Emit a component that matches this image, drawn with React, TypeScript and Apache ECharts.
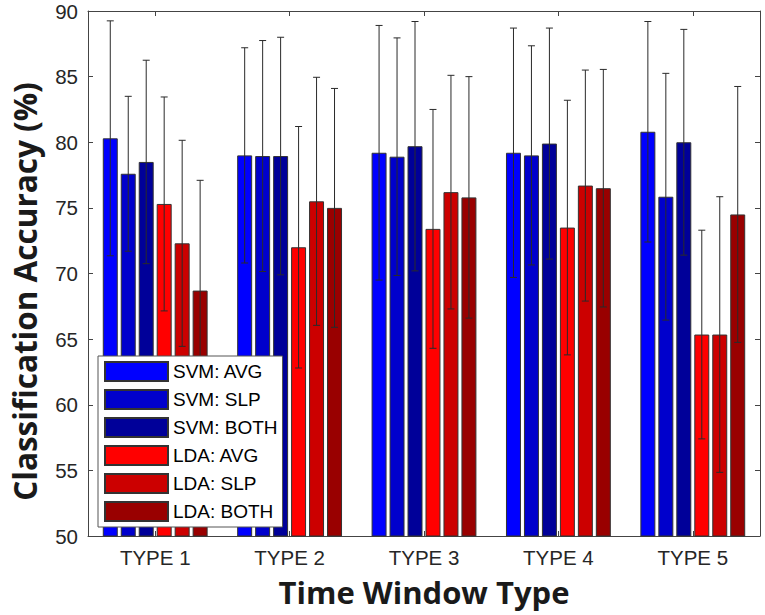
import React, { useEffect, useRef } from "react";
import * as echarts from "echarts";

const categories = ["TYPE 1", "TYPE 2", "TYPE 3", "TYPE 4", "TYPE 5"];
const seriesNames = ["SVM: AVG", "SVM: SLP", "SVM: BOTH", "LDA: AVG", "LDA: SLP", "LDA: BOTH"];
const seriesColors = ["#0000FF", "#0000CC", "#000099", "#FF0000", "#CC0000", "#990000"];

const svmAvg = [80.3, 79.0, 79.2, 79.2, 80.8];
const svmSlp = [77.6, 78.95, 78.9, 79.0, 75.85];
const svmBoth = [78.5, 78.95, 79.7, 79.9, 80.0];
const ldaAvg = [75.3, 72.0, 73.4, 73.5, 65.35];
const ldaSlp = [72.3, 75.5, 76.2, 76.7, 65.35];
const ldaBoth = [68.7, 75.0, 75.8, 76.5, 74.5];

const svmAvgSd = [8.95, 8.2, 9.7, 9.5, 8.4];
const svmSlpSd = [5.9, 8.8, 9.05, 8.35, 9.4];
const svmBothSd = [7.75, 9.05, 9.5, 8.8, 8.6];
const ldaAvgSd = [8.15, 9.2, 9.1, 9.7, 7.95];
const ldaSlpSd = [7.85, 9.45, 8.9, 8.8, 10.5];
const ldaBothSd = [8.4, 9.1, 9.2, 9.05, 9.75];

const yTicks = { min: 50, max: 90, interval: 5 };

const means = [svmAvg, svmSlp, svmBoth, ldaAvg, ldaSlp, ldaBoth];
const sds = [svmAvgSd, svmSlpSd, svmBothSd, ldaAvgSd, ldaSlpSd, ldaBothSd];

const BAR_CAT_GAP = 0.22;
const BAR_GAP = 0.2;
const AXIS_COLOR = "#444";
const TEXT_COLOR = "#262626";

export default function App() {
  const ref = useRef<HTMLDivElement>(null);

  useEffect(() => {
    if (!ref.current) return;
    const chart = echarts.init(ref.current, null, { renderer: "svg" });

    const n = seriesNames.length;
    const errData: number[][] = [];
    means.forEach((arr, s) => {
      arr.forEach((m, c) => {
        errData.push([c, m - sds[s][c], m + sds[s][c], s]);
      });
    });

    const barSeries = seriesNames.map((name, s) => ({
      type: "bar",
      name,
      data: means[s],
      xAxisIndex: 0,
      yAxisIndex: 0,
      barCategoryGap: BAR_CAT_GAP * 100 + "%",
      barGap: BAR_GAP * 100 + "%",
      itemStyle: { color: seriesColors[s], borderColor: "#333", borderWidth: 1 },
      z: 2,
    }));

    const errSeries = {
      type: "custom",
      name: "err",
      xAxisIndex: 0,
      yAxisIndex: 0,
      z: 3,
      encode: { x: 0, y: [1, 2] },
      data: errData,
      renderItem: (params: any, api: any) => {
        const cat = api.value(0);
        const low = api.value(1);
        const high = api.value(2);
        const s = api.value(3);
        const band = api.size([1, 0])[0];
        const area = band * (1 - BAR_CAT_GAP);
        const w = area / (n + (n - 1) * BAR_GAP);
        const top = api.coord([cat, high]);
        const bot = api.coord([cat, low]);
        const x = top[0] - area / 2 + s * w * (1 + BAR_GAP) + w / 2;
        const hw = 3.5;
        const style = { stroke: "#2a2a2a", lineWidth: 1 };
        return {
          type: "group",
          children: [
            { type: "line", shape: { x1: x, y1: top[1], x2: x, y2: bot[1] }, style },
            { type: "line", shape: { x1: x - hw, y1: top[1], x2: x + hw, y2: top[1] }, style },
            { type: "line", shape: { x1: x - hw, y1: bot[1], x2: x + hw, y2: bot[1] }, style },
          ],
        };
      },
    };

    chart.setOption({
      animation: false,
      backgroundColor: "#fff",
      grid: { left: 82, right: 5, top: 11, bottom: 79 },
      legend: {
        data: seriesNames,
        orient: "vertical",
        left: 98,
        top: 356,
        icon: "rect",
        itemWidth: 63,
        itemHeight: 19,
        itemGap: 7,
        padding: [5, 5, 5, 6],
        backgroundColor: "#fff",
        borderColor: "#555",
        borderWidth: 1,
        textStyle: { fontSize: 19, color: "#000", fontFamily: "Liberation Sans" },
      },
      xAxis: [
        {
          type: "category",
          data: categories,
          position: "bottom",
          name: "Time Window Type",
          nameLocation: "middle",
          nameGap: 40,
          nameTextStyle: { fontFamily: "Open Sans", fontWeight: "bold", fontSize: 31, color: "#1a1a1a" },
          axisLine: { lineStyle: { color: AXIS_COLOR, width: 1 } },
          axisTick: { show: true, inside: true, alignWithLabel: true, length: 5, lineStyle: { color: AXIS_COLOR } },
          axisLabel: { fontSize: 20.5, fontFamily: "Liberation Sans", color: TEXT_COLOR, margin: 11 },
          splitLine: { show: false },
        },
        {
          type: "category",
          data: categories,
          position: "top",
          axisLine: { lineStyle: { color: AXIS_COLOR, width: 1 } },
          axisTick: { show: true, inside: true, alignWithLabel: true, length: 5, lineStyle: { color: AXIS_COLOR } },
          axisLabel: { show: false },
          splitLine: { show: false },
        },
      ],
      yAxis: [
        {
          type: "value",
          min: yTicks.min,
          max: yTicks.max,
          interval: yTicks.interval,
          position: "left",
          name: "Classification Accuracy (%)",
          nameLocation: "middle",
          nameRotate: 90,
          nameGap: 48,
          nameTextStyle: {
            fontFamily: "Open Sans",
            fontWeight: "bold",
            fontSize: 31.5,
            color: "#1a1a1a",
            padding: [0, 36, 0, 0],
          },
          axisLine: { show: true, lineStyle: { color: AXIS_COLOR, width: 1 } },
          axisTick: { show: true, inside: true, length: 5, lineStyle: { color: AXIS_COLOR } },
          axisLabel: { fontSize: 20.5, fontFamily: "Liberation Sans", color: TEXT_COLOR, margin: 10 },
          splitLine: { show: false },
        },
        {
          type: "value",
          min: yTicks.min,
          max: yTicks.max,
          interval: yTicks.interval,
          position: "right",
          axisLine: { show: true, lineStyle: { color: AXIS_COLOR, width: 1 } },
          axisTick: { show: true, inside: true, length: 5, lineStyle: { color: AXIS_COLOR } },
          axisLabel: { show: false },
          splitLine: { show: false },
        },
      ],
      series: [...barSeries, errSeries],
    });

    return () => {
      chart.dispose();
    };
  }, []);

  return (
    <div
      ref={ref}
      style={{ position: "fixed", left: 0, top: 0, width: 765, height: 615, background: "#fff" }}
    />
  );
}
